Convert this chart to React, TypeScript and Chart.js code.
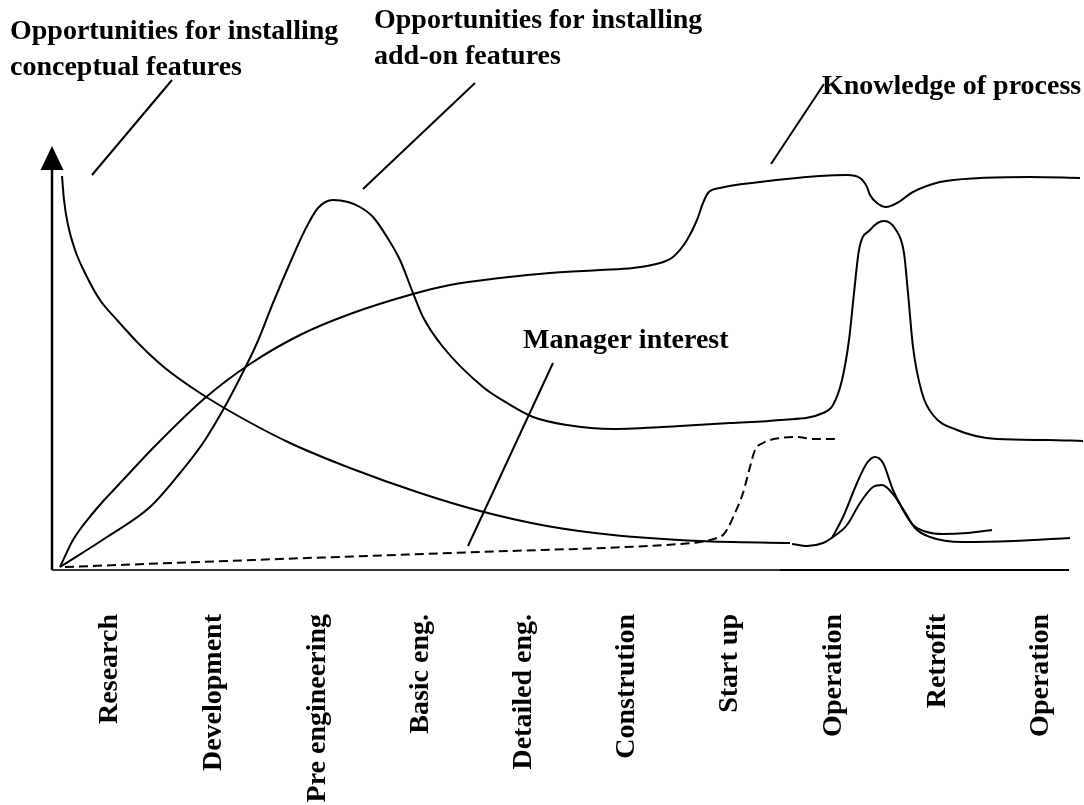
import { useEffect, useRef } from "react";
import { Chart, registerables } from "chart.js";

Chart.register(...registerables);

// Project phases shown along the horizontal axis
const phaseLabels = [
  "Research",
  "Development",
  "Pre engineering",
  "Basic eng.",
  "Detailed eng.",
  "Constrution",
  "Start up",
  "Operation",
  "Retrofit",
  "Operation",
];
// position of each phase label along the time axis
const phaseTicks = [58, 162, 266, 369, 472, 575, 678, 782, 886, 989];

// Opportunities for installing conceptual features (decreasing)
const conceptualEarly: [number, number][] = [
  [10, 394], [12, 370], [16, 345], [23, 320], [34, 295], [48, 270], [65, 250],
  [88, 225], [113, 202], [148, 177], [188, 153], [238, 127], [298, 102],
  [368, 77], [428, 59], [495, 44], [561, 35], [648, 29], [738, 27],
];
// continuation after the break, with the retrofit bump
const conceptualLate: [number, number][] = [
  [740, 26], [755, 24], [771, 27], [781, 33], [795, 45], [808, 67], [821, 83],
  [830, 85], [841, 76], [853, 58], [863, 42], [878, 33], [911, 28], [961, 29],
  [1018, 32],
];
// second (taller) retrofit bump
const retrofitBump: [number, number][] = [
  [780, 32], [791, 53], [805, 87], [815, 107], [823, 113], [831, 107], [841, 80],
  [851, 60], [861, 45], [875, 38], [891, 36], [915, 37], [940, 40],
];
// Opportunities for installing add-on features
const addOn: [number, number][] = [
  [8, 3], [55, 33], [98, 63], [128, 97], [151, 127], [171, 160], [188, 192],
  [205, 227], [221, 267], [238, 307], [253, 340], [266, 362], [281, 370],
  [296, 368], [308, 363], [321, 353], [335, 333], [348, 310], [361, 277],
  [371, 253], [391, 223], [431, 183], [455, 167], [481, 153], [515, 145],
  [561, 141], [628, 144], [678, 147], [728, 150], [771, 157], [781, 165],
  [790, 190], [797, 230], [802, 277], [807, 320], [818, 340], [832, 349],
  [844, 340], [852, 317], [856, 277], [861, 223], [870, 177], [881, 155],
  [905, 140], [945, 131], [995, 130], [1031, 129],
];
// Knowledge of process
const knowledge: [number, number][] = [
  [8, 3], [21, 30], [41, 57], [71, 90], [105, 126], [153, 172], [198, 206],
  [248, 235], [298, 256], [361, 276], [398, 285], [448, 292], [498, 297],
  [548, 300], [581, 302], [608, 307], [621, 313], [635, 330], [645, 350],
  [651, 367], [656, 377], [668, 382], [708, 388], [768, 394], [795, 395],
  [808, 392], [815, 383], [818, 375], [825, 367], [834, 363], [845, 367],
  [861, 378], [888, 388], [928, 392], [978, 393], [1028, 392],
];
// Manager interest (dashed)
const managerInterest: [number, number][] = [
  [13, 3], [228, 11], [428, 18], [628, 26], [648, 28], [665, 32], [671, 35],
  [676, 42], [683, 57], [691, 77], [698, 103], [703, 120], [711, 127],
  [728, 132], [745, 133], [761, 131], [785, 131],
];

// annotation texts (anchor in data units: x, first baseline y)
const notes = [
  { lines: ["Opportunities for installing", "conceptual features"], x: -42, y: 531 },
  { lines: ["Opportunities for installing", "add-on features"], x: 322, y: 542 },
  { lines: ["Knowledge of process"], x: 770, y: 476 },
  { lines: ["Manager interest"], x: 471, y: 222 },
];
// leader lines from the annotations to the curves (data units)
const leaders: [number, number, number, number][] = [
  [120, 490, 40, 395],
  [423, 487, 311, 381],
  [772, 486, 719, 406],
  [501, 207, 416, 24],
];

const X_MAX = 1032;
const Y_MAX = 424;
const X_AXIS_END = 1017;
const Y_AXIS_TOP = 400;

const SERIF = "'Liberation Serif', 'Times New Roman', Times, serif";

const toPts = (a: [number, number][]) => a.map(([x, y]) => ({ x, y }));

const sketchPlugin = {
  id: "sketch",
  afterDraw(chart: any) {
    const { ctx } = chart;
    const xs = chart.scales.x;
    const ys = chart.scales.y;
    const px = (v: number) => xs.getPixelForValue(v);
    const py = (v: number) => ys.getPixelForValue(v);
    ctx.save();
    ctx.strokeStyle = "#000";
    ctx.fillStyle = "#000";
    ctx.lineCap = "butt";
    // y axis with arrow
    ctx.lineWidth = 2.5;
    ctx.beginPath();
    ctx.moveTo(px(0), py(0));
    ctx.lineTo(px(0), py(Y_AXIS_TOP));
    ctx.stroke();
    ctx.beginPath();
    ctx.moveTo(px(0), py(Y_MAX));
    ctx.lineTo(px(0) - 11.5, py(Y_AXIS_TOP));
    ctx.lineTo(px(0) + 11.5, py(Y_AXIS_TOP));
    ctx.closePath();
    ctx.fill();
    // x axis
    ctx.lineWidth = 2;
    ctx.strokeStyle = "#333";
    ctx.beginPath();
    ctx.moveTo(px(0), py(0));
    ctx.lineTo(px(730), py(0));
    ctx.stroke();
    ctx.strokeStyle = "#000";
    ctx.beginPath();
    ctx.moveTo(px(728), py(0));
    ctx.lineTo(px(X_AXIS_END), py(0));
    ctx.stroke();
    // leaders
    ctx.lineWidth = 2;
    leaders.forEach(([x1, y1, x2, y2]) => {
      ctx.beginPath();
      ctx.moveTo(px(x1), py(y1));
      ctx.lineTo(px(x2), py(y2));
      ctx.stroke();
    });
    // annotation text
    ctx.font = `bold 28px ${SERIF}`;
    ctx.textBaseline = "alphabetic";
    ctx.textAlign = "left";
    notes.forEach((n) => {
      n.lines.forEach((line, i) => {
        ctx.fillText(line, px(n.x), py(n.y) + i * 36);
      });
    });
    ctx.restore();
  },
};

export default function App() {
  const ref = useRef<HTMLCanvasElement | null>(null);

  useEffect(() => {
    document.body.style.margin = "0";
    const canvas = ref.current;
    if (!canvas) return;
    const line = (data: [number, number][], dashed = false) => ({
      data: toPts(data),
      borderColor: "#000",
      borderWidth: 2,
      pointRadius: 0,
      fill: false,
      cubicInterpolationMode: "monotone" as const,
      borderDash: dashed ? [9, 5] : [],
      clip: false as any,
    });
    const chart = new Chart(canvas, {
      type: "line",
      data: {
        datasets: [
          { label: "Conceptual features", ...line(conceptualEarly) },
          { label: "Conceptual features (later)", ...line(conceptualLate) },
          { label: "Retrofit", ...line(retrofitBump) },
          { label: "Add-on features", ...line(addOn) },
          { label: "Knowledge of process", ...line(knowledge) },
          { label: "Manager interest", ...line(managerInterest, true) },
        ],
      },
      options: {
        responsive: false,
        animation: false,
        parsing: false as any,
        layout: { padding: { left: 52, top: 146, right: 0, bottom: 0 } },
        plugins: {
          legend: { display: false },
          tooltip: { enabled: false },
        },
        scales: {
          x: {
            type: "linear",
            min: 0,
            max: X_MAX,
            grid: { display: false, drawTicks: false },
            border: { display: false },
            afterBuildTicks: (scale: any) => {
              scale.ticks = phaseTicks.map((v) => ({ value: v }));
            },
            afterFit: (scale: any) => {
              scale.height = 235;
              scale.paddingLeft = 0;
              scale.paddingRight = 0;
            },
            ticks: {
              autoSkip: false,
              minRotation: 90,
              maxRotation: 90,
              padding: 44,
              color: "#000",
              font: { family: SERIF, weight: "bold", size: 28 },
              callback: (_v: any, i: number) => phaseLabels[i],
            },
          },
          y: {
            type: "linear",
            display: false,
            min: 0,
            max: Y_MAX,
          },
        },
      },
      plugins: [sketchPlugin],
    });
    return () => chart.destroy();
  }, []);

  return (
    <div style={{ width: 1084, height: 805, background: "#fff" }}>
      <canvas ref={ref} width={1084} height={805} style={{ display: "block" }} />
    </div>
  );
}
